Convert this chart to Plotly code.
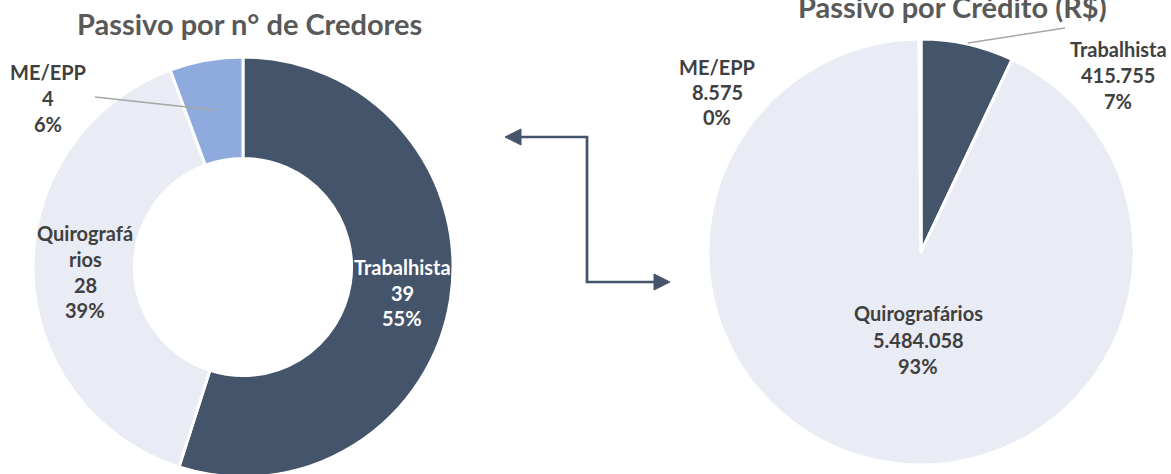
import plotly.graph_objects as go

W, H = 1171, 480  # a few px taller than the window; bottom is cut like the reference

# ---- data ----
left_title = "Passivo por n° de Credores"
left_labels = ["Trabalhista", "Quirografários", "ME/EPP"]
left_values = [39, 28, 4]

right_title = "Passivo por Crédito (R$)"
right_labels = ["Trabalhista", "Quirografários", "ME/EPP"]
right_values = [415755, 5484058, 8575]

colors = {"Trabalhista": "#44546A", "Quirografários": "#E9EBF5", "ME/EPP": "#8FAADC"}


def fx(x):
    return x / W


def fy(y):
    return 1 - y / H


def br_num(v):
    return f"{v:,}".replace(",", ".")


def pct(v, vals):
    return f"{round(v / sum(vals) * 100):.0f}%"


FONT = "Lato"
LABEL_COLOR = "#404040"
LABEL_SIZE = 20
TITLE_SIZE = 29

fig = go.Figure()

# left donut: center (243, 267), r 210
fig.add_trace(go.Pie(
    labels=left_labels, values=left_values, sort=False, direction="clockwise",
    rotation=0, hole=0.517, textinfo="none", hoverinfo="label+value+percent",
    marker=dict(colors=[colors[l] for l in left_labels], line=dict(color="white", width=3)),
    domain=dict(x=[fx(33), fx(453)], y=[fy(477), fy(57)]), showlegend=False,
))
# right pie: center (921, 252), r 213
fig.add_trace(go.Pie(
    labels=right_labels, values=right_values, sort=False, direction="clockwise",
    rotation=0, textinfo="none", hoverinfo="label+value+percent",
    marker=dict(colors=[colors[l] for l in right_labels], line=dict(color="white", width=3)),
    domain=dict(x=[fx(708), fx(1134)], y=[fy(465), fy(39)]), showlegend=False,
))

annotations = []


def add_lines(lines, cx, ys, color=LABEL_COLOR, size=LABEL_SIZE):
    for t, y in zip(lines, ys):
        annotations.append(dict(
            x=fx(cx), y=fy(y), xref="paper", yref="paper", text=f"<b>{t}</b>",
            showarrow=False, xanchor="center", yanchor="middle",
            font=dict(family=FONT, size=size, color=color),
        ))


# titles
annotations.append(dict(x=fx(250), y=fy(23), xref="paper", yref="paper",
                        text=f"<b>{left_title}</b>", showarrow=False,
                        xanchor="center", yanchor="middle",
                        font=dict(family=FONT, size=TITLE_SIZE, color="#595959")))
annotations.append(dict(x=fx(952), y=fy(7), xref="paper", yref="paper",
                        text=f"<b>{right_title}</b>", showarrow=False,
                        xanchor="center", yanchor="middle",
                        font=dict(family=FONT, size=TITLE_SIZE, color="#595959")))

# left labels
lv = dict(zip(left_labels, left_values))
add_lines(["Trabalhista", str(lv["Trabalhista"]), pct(lv["Trabalhista"], left_values)],
          402, [267, 293, 318], color="white")
add_lines(["Quirografá", "rios", str(lv["Quirografários"]), pct(lv["Quirografários"], left_values)],
          85, [233, 259, 285, 310])
add_lines(["ME/EPP", str(lv["ME/EPP"]), pct(lv["ME/EPP"], left_values)],
          48, [72, 98, 124])

# right labels
rv = dict(zip(right_labels, right_values))
add_lines(["Trabalhista", br_num(rv["Trabalhista"]), pct(rv["Trabalhista"], right_values)],
          1118, [49, 75, 101])
add_lines(["Quirografários", br_num(rv["Quirografários"]), pct(rv["Quirografários"], right_values)],
          918, [313, 340, 366])
add_lines(["ME/EPP", br_num(rv["ME/EPP"]), pct(rv["ME/EPP"], right_values)],
          717, [67, 92, 117])

shapes = []
# leader lines
for (x0, y0, x1, y1) in [(95, 97, 215, 110), (968, 43, 1065, 28)]:
    shapes.append(dict(type="line", xref="paper", yref="paper",
                       x0=fx(x0), y0=fy(y0), x1=fx(x1), y1=fy(y1),
                       line=dict(color="#A6A6A6", width=1.5)))

# connector arrow
ARROW = "#44546A"
pts = [(520, 137), (587, 137), (587, 282), (655, 282)]
path = "M " + " L ".join(f"{fx(x)},{fy(y)}" for x, y in pts)
shapes.append(dict(type="path", xref="paper", yref="paper", path=path,
                   line=dict(color=ARROW, width=2.7)))
for tri in [[(505, 137), (521, 129), (521, 145)], [(670, 282), (654, 274), (654, 290)]]:
    p = "M " + " L ".join(f"{fx(x)},{fy(y)}" for x, y in tri) + " Z"
    shapes.append(dict(type="path", xref="paper", yref="paper", path=p,
                       fillcolor=ARROW, line=dict(color=ARROW, width=1)))

fig.update_layout(
    width=W, height=H, margin=dict(l=0, r=0, t=0, b=0),
    paper_bgcolor="white", plot_bgcolor="white",
    annotations=annotations, shapes=shapes, showlegend=False,
)

fig.write_html(
    "out.html",
    config={"displayModeBar": False},
    post_script="document.body.style.margin='0';document.body.style.overflow='hidden';",
)
